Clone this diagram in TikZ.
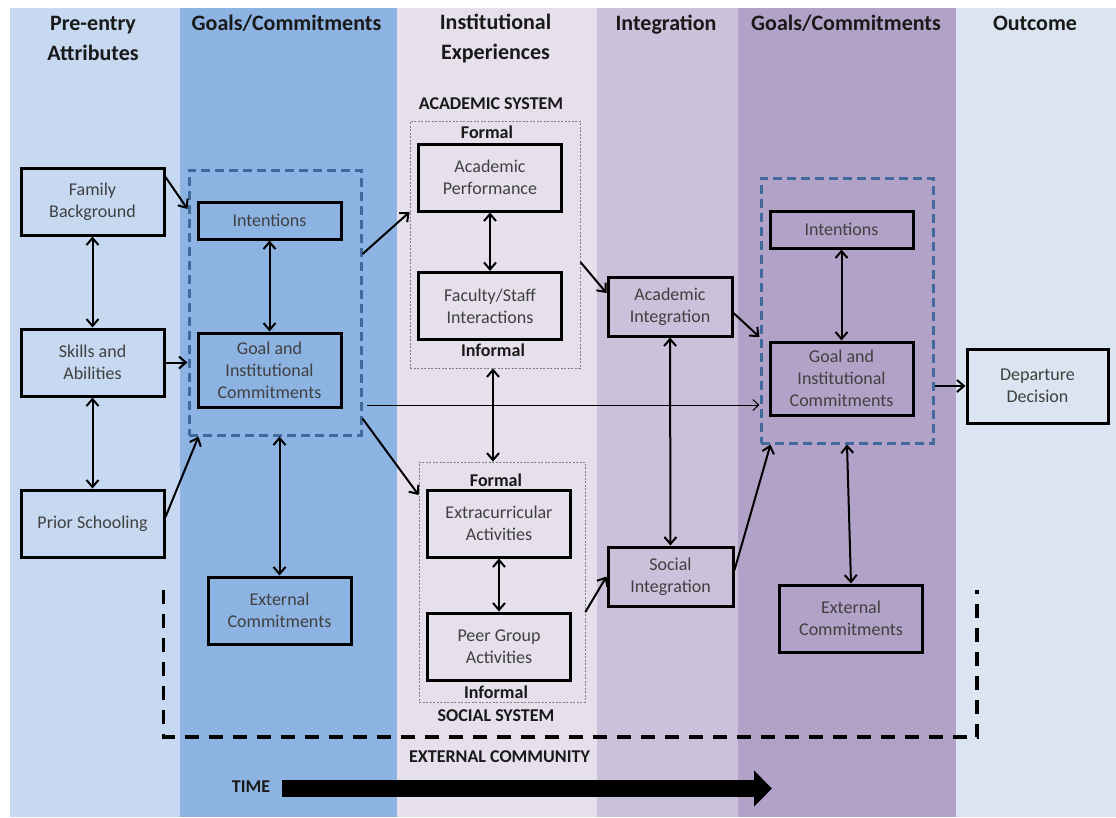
\documentclass[tikz,border=0pt]{standalone}
\usepackage{fontspec}
\setmainfont{Carlito}
\usetikzlibrary{positioning}
\usetikzlibrary{arrows.meta}

\definecolor{colPre}{HTML}{C6D9F1}
\definecolor{colGoalA}{HTML}{8DB3E2}
\definecolor{colInst}{HTML}{E5E0EC}
\definecolor{colInteg}{HTML}{CCC1DA}
\definecolor{colGoalB}{HTML}{B3A2C7}
\definecolor{colOut}{HTML}{DBE5F1}
\definecolor{plateblue}{HTML}{41699C}

\begin{document}
\begin{tikzpicture}[x=1pt, y=-1pt]
  \tikzstyle{box}=[
      rectangle, draw = black, line width = 3pt
    , minimum width = 143pt, minimum height = 67pt
    , align = center, inner sep = 2pt
    , font = \fontsize{18}{22}\selectfont, text = black!75
    , node distance = 161pt
    ]
  \tikzstyle{header}=[
      align = center, text = black!90
    , font = \fontsize{22}{30}\selectfont\bfseries
    ]
  \tikzstyle{tag}=[font = \fontsize{18}{22}\selectfont\bfseries, text = black!90]
  \tikzstyle{plate}=[
      rectangle, draw = plateblue, line width = 3pt
    , dash pattern = on 9pt off 5pt
    ]
  \tikzstyle{system}=[
      rectangle, draw = black!50, line width = 0.8pt
    , dash pattern = on 2pt off 1.5pt
    ]
  \tikzstyle{connect}=[-{Straight Barb[length=7pt, width=12pt]}, line width = 2pt]
  \tikzstyle{link}=[{Straight Barb[length=7pt, width=12pt]}-{Straight Barb[length=7pt, width=12pt]}, line width = 2pt]
  \tikzstyle{thinconnect}=[-{Straight Barb[length=6pt, width=11pt]}, line width = 1pt]
  \tikzstyle{community}=[line width = 3.2pt, dash pattern = on 14pt off 10pt]

  \useasboundingbox (0,0) rectangle (1116,817);

  % columns
  \fill[colPre]   (10,8)  rectangle (180,817);
  \fill[colGoalA] (180,8) rectangle (397,817);
  \fill[colInst]  (397,8) rectangle (597,817);
  \fill[colInteg] (597,8) rectangle (738,817);
  \fill[colGoalB] (738,8) rectangle (956,817);
  \fill[colOut]   (956,8) rectangle (1116,817);

  \node[header] (hPre) at (93,38) {Pre-entry\\Attributes};
  \node[header, anchor = base] (hGoalsA) at (286.5,30) {Goals/Commitments};
  \node[header] (hInst) at (495.5,38) {Institutional\\Experiences};
  \node[header, anchor = base] (hInteg) at (666,30) {Integration};
  \node[header, anchor = base] (hGoalsB) at (846,30) {Goals/Commitments};
  \node[header, anchor = base] (hOut) at (1035,30) {Outcome};

  % pre-entry attributes
  \node[box] (family) at (92.5,201.5) {Family\\Background};
  \node[box] (skills) [below of = family] {Skills and\\Abilities};
  \node[box] (prior) [below of = skills] {Prior Schooling};

  % goals / commitments
  \node[box, minimum height = 37pt] (intentA) at (269.5,220.5) {Intentions};
  \node[box, minimum height = 74pt] (goalA) at (269.5,370) {Goal and\\Institutional\\Commitments};
  \node[box] (externA) at (279.5,610.5) {External\\Commitments};
  \node[plate, minimum width = 172pt, minimum height = 265pt] (goalsA) at (275,302.5) {};

  % institutional experiences
  \node[tag] (academicLbl) at (491,104) {ACADEMIC SYSTEM};
  \node[tag] (formalA) at (487,132) {Formal};
  \node[box] (perform) at (490,177.5) {Academic\\Performance};
  \node[box] (faculty) at (490,306) {Faculty/Staff\\Interactions};
  \node[tag] (informalA) at (493,350) {Informal};
  \node[system, minimum width = 170pt, minimum height = 247pt] (academic) at (495,244.5) {};

  \node[tag] (formalB) at (496,480) {Formal};
  \node[box] (extra) at (499,523.5) {Extracurricular\\Activities};
  \node[box] (peer) at (499,646.5) {Peer Group\\Activities};
  \node[tag] (informalB) at (496,692) {Informal};
  \node[tag] (socialLbl) at (496,716) {SOCIAL SYSTEM};
  \node[system, minimum width = 166pt, minimum height = 240pt] (social) at (502,582) {};

  % integration
  \node[box, minimum width = 124pt, minimum height = 59pt] (acadInt) at (670,306.5) {Academic\\Integration};
  \node[box, minimum width = 125pt, minimum height = 59pt] (socInt) at (670.5,576.5) {Social\\Integration};

  % goals / commitments, later
  \node[box, minimum height = 37pt] (intentB) at (841.5,229.5) {Intentions};
  \node[box, minimum height = 73pt] (goalB) at (841.5,378.5) {Goal and\\Institutional\\Commitments};
  \node[box] (externB) at (851,618.5) {External\\Commitments};
  \node[plate, minimum width = 172pt, minimum height = 265pt] (goalsB) at (847,310.5) {};

  % outcome
  \node[box, minimum width = 141pt, minimum height = 74pt] (depart) at (1037.5,386) {Departure\\Decision};

  % external community
  \draw[community] (163.5,590) |- (977,737) -- (977,590);
  \node[tag] (communityLbl) at (499.5,757) {EXTERNAL COMMUNITY};

  % time
  \node[tag] (timeLbl) at (251,786.5) {TIME};
  \coordinate (timeStart) at (282,788.5);
  \coordinate (timeEnd) at (772,788.5);
  \draw[line width = 17pt, -{Triangle[length=18pt, width=35pt]}] (timeStart) -- (timeEnd);

  \path (family) edge [link] (skills);
  \path (skills) edge [link] (prior);
  \draw [connect] ([yshift=24.5pt]family.east) -- ([yshift=93.5pt]goalsA.west);
  \draw [connect] (skills.east) -- (skills.east -| goalsA.west);
  \draw [connect] ([yshift=6.5pt]prior.east) -- ([xshift=11pt]goalsA.south west);

  \path (intentA) edge [link] (goalA);
  \draw [link] (externA.north |- goalsA.south) -- (externA.north);
  \draw [connect] ([yshift=48.5pt]goalsA.east) -- ([yshift=32.5pt]academic.west);
  \draw [connect] ([yshift=18pt]goalsA.south east) -- ([yshift=87pt]social.west);
  \draw [thinconnect] ([xshift=4pt, yshift=-102.5pt]goalsA.east) -- ([yshift=-94.5pt]goalsB.west);

  \path (perform) edge [link] (faculty);
  \draw [link] (informalA |- academic.south) -- (informalA |- social.north);
  \path (extra) edge [link] (peer);
  \draw [connect] ([yshift=-17.5pt]academic.east) -- ([yshift=13.5pt]acadInt.west);
  \draw [connect] ([yshift=-30pt]social.east) -- (socInt.west);

  \path (acadInt) edge [link] (socInt);
  \draw [connect] ([yshift=-6.5pt]acadInt.east) -- ([yshift=-26.5pt]goalsB.west);
  \draw [connect] ([yshift=6.5pt]socInt.east) -- ([xshift=11pt]goalsB.south west);

  \path (intentB) edge [link] (goalB);
  \draw [link] (goalsB.south) -- (externB.north);
  \draw [connect] (depart.west -| goalsB.east) -- (depart.west);

\end{tikzpicture}
\end{document}
